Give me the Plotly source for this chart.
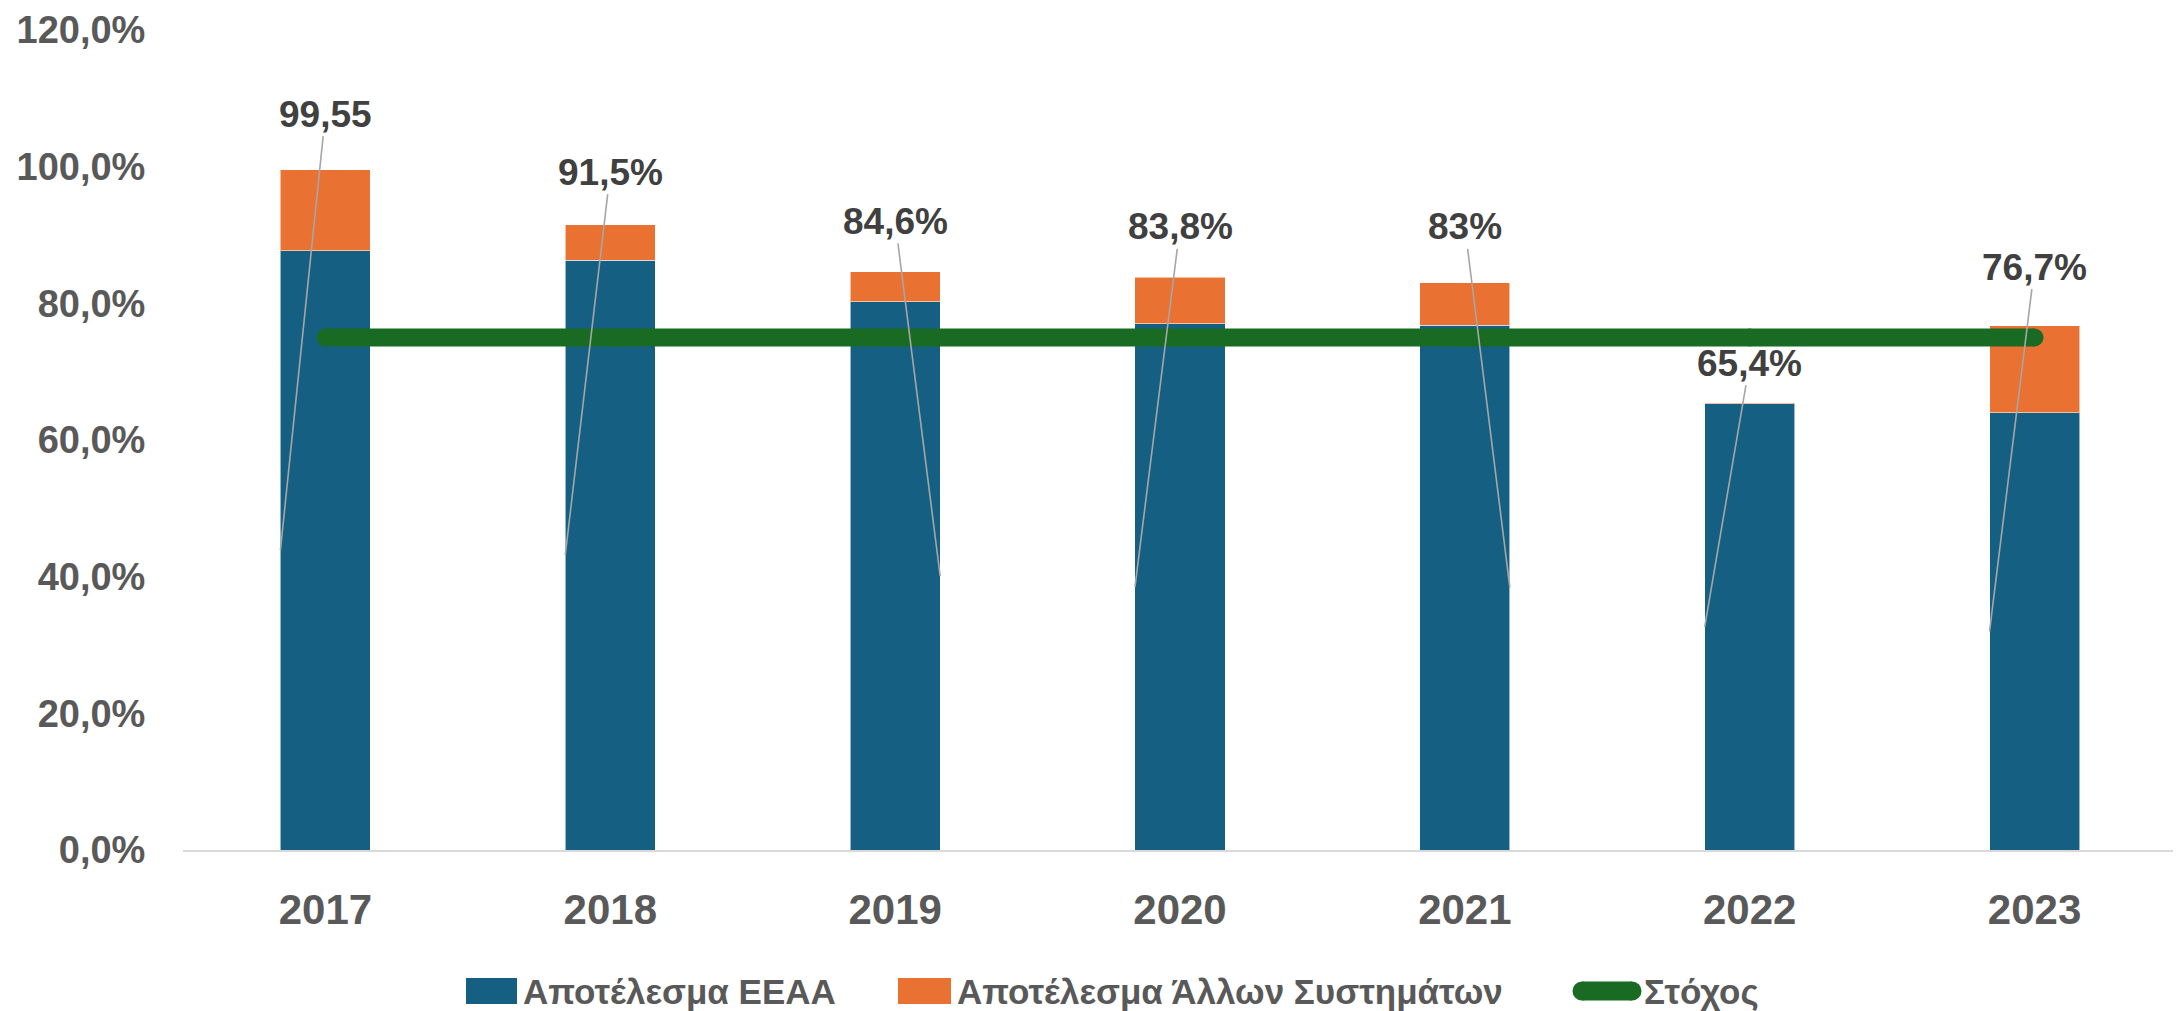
import plotly.graph_objects as go

years = ["2017", "2018", "2019", "2020", "2021", "2022", "2023"]
eeaa = [87.7, 86.3, 80.2, 77.0, 76.8, 65.3, 64.0]
other = [11.85, 5.2, 4.4, 6.8, 6.2, 0.1, 12.7]
target = [75, 75, 75, 75, 75, 75, 75]
total_labels = ["99,55", "91,5%", "84,6%", "83,8%", "83%", "65,4%", "76,7%"]
label_y = [107.7, 99.2, 92.0, 91.2, 91.2, 71.25, 85.3]
y_ticks = [0, 20, 40, 60, 80, 100, 120]

BLUE = "#156082"
ORANGE = "#E97132"
GREEN = "#196B24"
BAR_W = 0.316

# page body has an 8px margin, so the figure is shrunk by that much
OFF = 8
W, H = 2181 - OFF, 1011 - OFF
L, R, T, B = 183 - OFF, 4, 30 - OFF, 161


def px(x):
    # x in page pixels -> paper coords
    return (x - OFF - L) / (W - L - R)


def py(y):
    return (H - B - (y - OFF)) / (H - T - B)


fig = go.Figure()
fig.add_trace(
    go.Bar(
        x=years,
        y=eeaa,
        name="Αποτέλεσμα ΕΕΑΑ",
        marker=dict(color=BLUE, line=dict(color="rgba(255,255,255,0.55)", width=1)),
        width=BAR_W,
    )
)
fig.add_trace(
    go.Bar(
        x=years,
        y=other,
        name="Αποτέλεσμα Άλλων Συστημάτων",
        marker=dict(color=ORANGE, line=dict(color="rgba(255,255,255,0.55)", width=1)),
        width=BAR_W,
    )
)
fig.add_trace(
    go.Scatter(
        x=years,
        y=target,
        name="Στόχος",
        mode="lines+markers",
        line=dict(color=GREEN, width=18),
        marker=dict(color=GREEN, size=18),
    )
)

# labels with leader lines to the middle of the blue bar
sides = [-1, -1, 1, -1, 1, -1, -1]
for i, (txt, ly) in enumerate(zip(total_labels, label_y)):
    fig.add_annotation(
        x=i + sides[i] * BAR_W / 2,
        y=eeaa[i] / 2,
        ax=i,
        ay=ly,
        axref="x",
        ayref="y",
        text=txt,
        showarrow=True,
        arrowhead=0,
        arrowwidth=1.6,
        arrowcolor="#a6a6a6",
        standoff=0,
        startstandoff=0,
        font=dict(family="Liberation Sans", size=37, color="#404040", weight="bold"),
    )

# legend drawn by hand
leg_y = 991
leg_font = dict(family="Liberation Sans", size=35, color="#595959", weight="bold")
legend_items = [
    (466, 517, BLUE, "Αποτέλεσμα ΕΕΑΑ", 521),
    (898, 951, ORANGE, "Αποτέλεσμα Άλλων Συστημάτων", 955),
]
for x0, x1, col, txt, tx in legend_items:
    fig.add_shape(
        type="rect",
        xref="paper",
        yref="paper",
        x0=px(x0),
        x1=px(x1),
        y0=py(leg_y - 13),
        y1=py(leg_y + 13),
        fillcolor=col,
        line=dict(width=0),
    )
    fig.add_annotation(
        xref="paper", yref="paper", x=px(tx), y=py(leg_y), text=txt,
        showarrow=False, xanchor="left", yanchor="middle", font=leg_font,
    )
fig.add_shape(
    type="line", xref="paper", yref="paper",
    x0=px(1582), x1=px(1632), y0=py(leg_y), y1=py(leg_y),
    line=dict(color=GREEN, width=19),
)
for cx in (1582, 1632):
    fig.add_shape(
        type="circle", xref="paper", yref="paper",
        xsizemode="pixel", ysizemode="pixel",
        xanchor=px(cx), yanchor=py(leg_y),
        x0=-9.5, x1=9.5, y0=-9.5, y1=9.5,
        fillcolor=GREEN, line=dict(width=0),
    )
fig.add_annotation(
    xref="paper", yref="paper", x=px(1642), y=py(leg_y), text="Στόχος",
    showarrow=False, xanchor="left", yanchor="middle", font=leg_font,
)

fig.update_layout(
    width=W,
    height=H,
    barmode="stack",
    showlegend=False,
    plot_bgcolor="white",
    paper_bgcolor="white",
    margin=dict(l=L, r=R, t=T, b=B, autoexpand=False),
    xaxis=dict(
        type="category",
        range=[-0.5, 6.5],
        automargin=False,
        showline=True,
        linecolor="#d9d9d9",
        linewidth=2,
        showgrid=False,
        ticks="outside",
        ticklen=22,
        tickcolor="rgba(0,0,0,0)",
        tickfont=dict(family="Liberation Sans", size=42, color="#595959", weight="bold"),
    ),
    yaxis=dict(
        range=[0, 120],
        automargin=False,
        tickvals=y_ticks,
        ticktext=[f"{v:.1f}".replace(".", ",") + "%" for v in y_ticks],
        ticklabeloverflow="allow",
        showgrid=False,
        zeroline=False,
        ticks="outside",
        ticklen=29,
        tickcolor="rgba(0,0,0,0)",
        tickfont=dict(family="Liberation Sans", size=38, color="#595959", weight="bold"),
    ),
)

fig.write_html("out.html")
